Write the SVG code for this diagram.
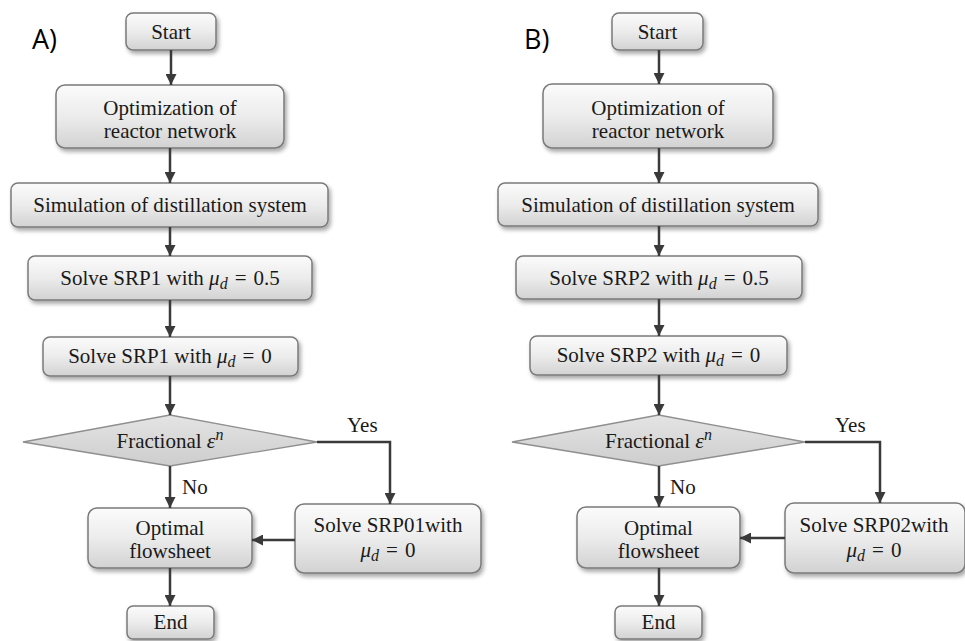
<svg xmlns="http://www.w3.org/2000/svg" width="965" height="641" viewBox="0 0 965 641">
  <defs>
    <linearGradient id="boxFill" x1="0" y1="0" x2="0" y2="1">
      <stop offset="0" stop-color="#fbfbfb"/>
      <stop offset="0.5" stop-color="#ececec"/>
      <stop offset="1" stop-color="#d2d2d2"/>
    </linearGradient>
    <linearGradient id="diamondFill" x1="0" y1="0" x2="0" y2="1">
      <stop offset="0" stop-color="#e4e4e4"/>
      <stop offset="1" stop-color="#cdcdcd"/>
    </linearGradient>
    <filter id="shadow" x="-10%" y="-20%" width="125%" height="160%">
      <feDropShadow dx="2" dy="3" stdDeviation="2" flood-color="#000" flood-opacity="0.35"/>
    </filter>
    <marker id="arrow" viewBox="0 0 10 10" refX="10" refY="5" markerWidth="4.4" markerHeight="4.4" orient="auto" markerUnits="strokeWidth">
      <path d="M0,0 L10,5 L0,10 Z" fill="#3a3a3a"/>
    </marker>
  </defs>
  <style>
    .box { fill: url(#boxFill); stroke: #7a7a7a; stroke-width: 1.5; filter: url(#shadow); }
    .dia { fill: url(#diamondFill); stroke: #8f8f8f; stroke-width: 1.3; }
    .t { font-size: 21px; fill: #1a1a1a; text-anchor: middle; }
    .tl { font-size: 21px; fill: #1a1a1a; }
    .m { font-style: italic; }
    .sub { font-style: italic; font-size: 16px; }
    .lbl { font-size: 27px; fill: #000; }
    .conn path { fill: none; stroke: #3a3a3a; stroke-width: 2.5; marker-end: url(#arrow); }
  </style>
  <rect width="965" height="641" fill="#fff"/>

  <!-- Panel A -->
  <g id="panelA" font-family="Liberation Serif, Times New Roman, serif">
    <text class="lbl" x="32" y="49" font-family="Open Sans, Liberation Sans, sans-serif">A)</text>
    <g id="a-start">
      <rect class="box" x="126" y="13" width="90" height="37" rx="7"/>
      <text class="t" x="171" y="39">Start</text>
    </g>
    <g id="a-reactor">
      <rect class="box" x="56" y="85" width="228" height="63" rx="9"/>
      <text class="t" x="170" y="115">Optimization of</text>
      <text class="t" x="170" y="138">reactor network</text>
    </g>
    <g id="a-distill">
      <rect class="box" x="11" y="183" width="317" height="44" rx="7"/>
      <text class="t" x="170" y="212">Simulation of distillation system</text>
    </g>
    <g id="a-srp1-half">
      <rect class="box" x="28" y="256" width="284" height="44" rx="7"/>
      <text class="t" x="170" y="285">Solve SRP1 with <tspan class="m">μ</tspan><tspan class="sub" dy="4">d</tspan><tspan dy="-4" dx="7">=</tspan><tspan dx="7">0.5</tspan></text>
    </g>
    <g id="a-srp1-zero">
      <rect class="box" x="43" y="337" width="255" height="39" rx="7"/>
      <text class="t" x="170" y="363">Solve SRP1 with <tspan class="m">μ</tspan><tspan class="sub" dy="4">d</tspan><tspan dy="-4" dx="7">=</tspan><tspan dx="7">0</tspan></text>
    </g>
    <g id="a-decision">
      <polygon class="dia" points="23,442 170,415 317,442 170,466"/>
      <text class="t" x="170" y="448">Fractional <tspan class="m" font-size="22">ε</tspan><tspan class="sub" dy="-8">n</tspan></text>
    </g>
    <g id="a-srp01">
      <rect class="box" x="295" y="504" width="186" height="69" rx="9"/>
      <text class="t" x="388" y="532">Solve SRP01with</text>
      <text class="t" x="388" y="557"><tspan class="m">μ</tspan><tspan class="sub" dy="4">d</tspan><tspan dy="-4" dx="7">=</tspan><tspan dx="7">0</tspan></text>
    </g>
    <g id="a-optimal">
      <rect class="box" x="88" y="508" width="164" height="60" rx="9"/>
      <text class="t" x="170" y="535">Optimal</text>
      <text class="t" x="170" y="558">flowsheet</text>
    </g>
    <g id="a-end">
      <rect class="box" x="127" y="606" width="87" height="33" rx="6"/>
      <text class="t" x="170.5" y="629">End</text>
    </g>
    <text class="tl" x="347" y="432">Yes</text>
    <text class="tl" x="182" y="494">No</text>
    <g id="a-connectors" class="conn">
      <path d="M171,50 V85"/>
      <path d="M170,148 V183"/>
      <path d="M170,227 V256"/>
      <path d="M170,300 V337"/>
      <path d="M170,376 V415"/>
      <path d="M170,466 V508"/>
      <path d="M317,442 H390 V504"/>
      <path d="M295,540 H252"/>
      <path d="M170,568 V606"/>
    </g>
  </g>

  <!-- Panel B -->
  <g id="panelB" font-family="Liberation Serif, Times New Roman, serif">
    <text class="lbl" x="524" y="49" font-family="Open Sans, Liberation Sans, sans-serif">B)</text>
    <g id="b-start">
      <rect class="box" x="612" y="13" width="91" height="37" rx="7"/>
      <text class="t" x="657.5" y="39">Start</text>
    </g>
    <g id="b-reactor">
      <rect class="box" x="543" y="84" width="230" height="64" rx="9"/>
      <text class="t" x="658" y="115">Optimization of</text>
      <text class="t" x="658" y="138">reactor network</text>
    </g>
    <g id="b-distill">
      <rect class="box" x="498" y="183" width="320" height="43" rx="7"/>
      <text class="t" x="658" y="212">Simulation of distillation system</text>
    </g>
    <g id="b-srp2-half">
      <rect class="box" x="516" y="256" width="286" height="43" rx="7"/>
      <text class="t" x="659" y="285">Solve SRP2 with <tspan class="m">μ</tspan><tspan class="sub" dy="4">d</tspan><tspan dy="-4" dx="7">=</tspan><tspan dx="7">0.5</tspan></text>
    </g>
    <g id="b-srp2-zero">
      <rect class="box" x="530" y="336" width="257" height="39" rx="7"/>
      <text class="t" x="658.5" y="362">Solve SRP2 with <tspan class="m">μ</tspan><tspan class="sub" dy="4">d</tspan><tspan dy="-4" dx="7">=</tspan><tspan dx="7">0</tspan></text>
    </g>
    <g id="b-decision">
      <polygon class="dia" points="512,442 658.5,415 805,442 658.5,466"/>
      <text class="t" x="658.5" y="448">Fractional <tspan class="m" font-size="22">ε</tspan><tspan class="sub" dy="-8">n</tspan></text>
    </g>
    <g id="b-srp02">
      <rect class="box" x="785" y="503" width="180" height="70" rx="9"/>
      <text class="t" x="874" y="532">Solve SRP02with</text>
      <text class="t" x="874" y="557"><tspan class="m">μ</tspan><tspan class="sub" dy="4">d</tspan><tspan dy="-4" dx="7">=</tspan><tspan dx="7">0</tspan></text>
    </g>
    <g id="b-optimal">
      <rect class="box" x="577" y="507" width="163" height="61" rx="9"/>
      <text class="t" x="658.5" y="535">Optimal</text>
      <text class="t" x="658.5" y="558">flowsheet</text>
    </g>
    <g id="b-end">
      <rect class="box" x="615" y="606" width="87" height="33" rx="6"/>
      <text class="t" x="658.5" y="629">End</text>
    </g>
    <text class="tl" x="835" y="432">Yes</text>
    <text class="tl" x="670" y="494">No</text>
    <g id="b-connectors" class="conn">
      <path d="M659,50 V84"/>
      <path d="M659,148 V183"/>
      <path d="M659,226 V256"/>
      <path d="M659,299 V336"/>
      <path d="M659,375 V415"/>
      <path d="M659,466 V507"/>
      <path d="M805,442 H880 V503"/>
      <path d="M785,538 H740"/>
      <path d="M659,568 V606"/>
    </g>
  </g>
</svg>
